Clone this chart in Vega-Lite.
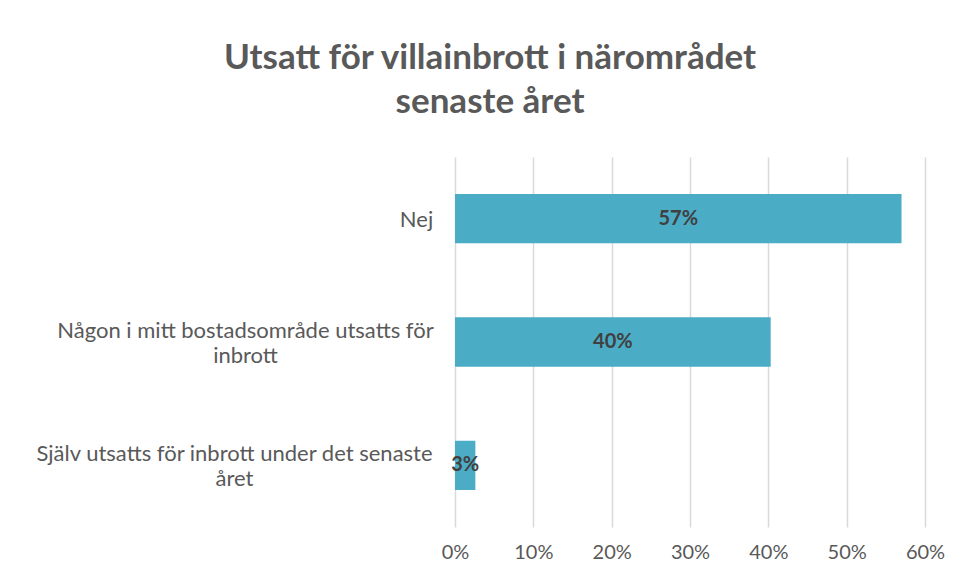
{
  "$schema": "https://vega.github.io/schema/vega-lite/v6.json",
  "autosize": "none",
  "width": 470,
  "height": 370,
  "padding": {"left": 455, "top": 157, "right": 40, "bottom": 55},
  "background": "white",
  "title": {
    "text": ["Utsatt för villainbrott i närområdet", "senaste året"],
    "font": "Lato",
    "fontSize": 35,
    "fontWeight": "bold",
    "color": "#595959",
    "anchor": "middle",
    "frame": "group",
    "dx": -200,
    "offset": 37,
    "lineHeight": 44
  },
  "data": {
    "values": [
      {"kategori": "Nej", "andel": 0.57, "etikett": "57%"},
      {"kategori": "Någon i mitt bostadsområde utsatts för inbrott", "andel": 0.403, "etikett": "40%"},
      {"kategori": "Själv utsatts för inbrott under det senaste året", "andel": 0.026, "etikett": "3%"}
    ]
  },
  "encoding": {
    "y": {
      "field": "kategori",
      "type": "nominal",
      "sort": null,
      "scale": {"paddingInner": 0.6, "paddingOuter": 0.3},
      "axis": {
        "title": null,
        "domain": false,
        "ticks": false,
        "labelFont": "Lato",
        "labelFontSize": 22,
        "labelColor": "#595959",
        "labelAlign": "center",
        "labelPadding": {"expr": "datum.value == 'Nej' ? 39 : datum.value == 'Någon i mitt bostadsområde utsatts för inbrott' ? 210 : 221"},
        "labelOffset": {"expr": "datum.value == 'Nej' ? 1 : -11"},
        "labelLimit": 500,
        "labelLineHeight": 25,
        "labelExpr": "datum.label == 'Någon i mitt bostadsområde utsatts för inbrott' ? ['Någon i mitt bostadsområde utsatts för', 'inbrott'] : datum.label == 'Själv utsatts för inbrott under det senaste året' ? ['Själv utsatts för inbrott under det senaste', 'året'] : datum.label"
      }
    }
  },
  "layer": [
    {
      "mark": {"type": "bar", "color": "#4BACC6"},
      "encoding": {
        "x": {
          "field": "andel",
          "type": "quantitative",
          "scale": {"domain": [0, 0.6]},
          "axis": {
            "title": null,
            "format": ".0%",
            "values": [0, 0.1, 0.2, 0.3, 0.4, 0.5, 0.6],
            "domain": false,
            "ticks": false,
            "grid": true,
            "gridColor": "#D9D9D9",
            "gridWidth": 1.5,
            "labelFlush": false,
            "labelFont": "Lato",
            "labelFontSize": 20,
            "labelColor": "#595959",
            "labelPadding": 15
          }
        }
      }
    },
    {
      "mark": {"type": "text", "font": "Lato", "fontSize": 20, "fontWeight": "bold", "color": "#404040", "align": "center", "baseline": "middle"},
      "encoding": {
        "x": {"field": "andel", "type": "quantitative", "scale": {"domain": [0, 1.2]}, "axis": null},
        "text": {"field": "etikett"}
      }
    }
  ],
  "resolve": {"scale": {"x": "independent"}},
  "config": {"view": {"stroke": null}}
}
